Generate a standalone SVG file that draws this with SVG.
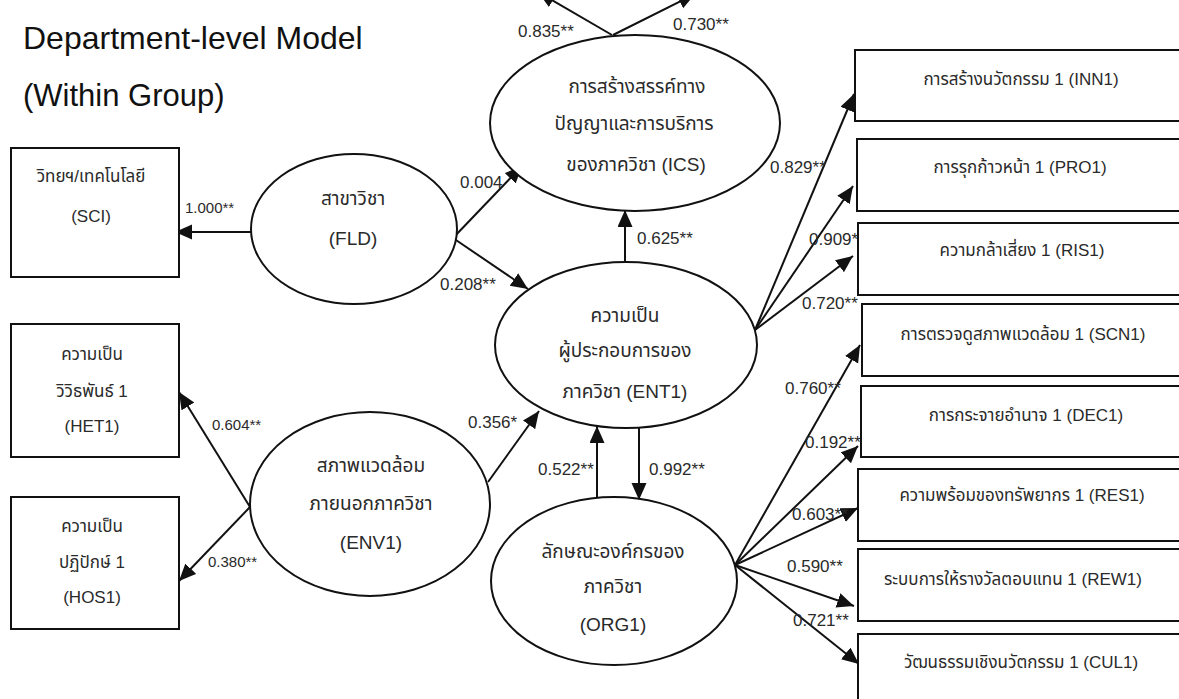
<svg xmlns="http://www.w3.org/2000/svg" width="1179" height="699" viewBox="0 0 1179 699">
  <style>
    .bg { fill: #ffffff; }
    .title { fill: #111111; font-family: "Liberation Sans", Arial, sans-serif; font-size: 31px; }
    .box { fill: #ffffff; stroke: #111111; stroke-width: 2; }
    .lat { fill: #ffffff; stroke: #111111; stroke-width: 2; }
    .t { fill: #2a2a2a; font-family: "Liberation Sans", "Noto Sans Thai", "DejaVu Sans", sans-serif; text-anchor: middle; }
    .ts { font-size: 17px; }
    .tm { font-size: 17px; }
    .tl { font-size: 19px; }
    .lbl { fill: #2a2a2a; font-family: "Liberation Sans", Arial, sans-serif; font-size: 17px; }
    .lbls { font-size: 15px; }
    .edge { stroke: #111111; stroke-width: 2; fill: none; marker-end: url(#arrow); }
  </style>
  <defs>
    <marker id="arrow" markerUnits="userSpaceOnUse" markerWidth="18" markerHeight="16" refX="17" refY="7.5" orient="auto">
      <path d="M0,0 L17,7.5 L0,15 Z" fill="#111111"/>
    </marker>
  </defs>

  <rect class="bg" x="0" y="0" width="1179" height="699"/>

  <!-- heading -->
  <g id="heading">
    <text class="title" x="23" y="49" style="font-size:32px">Department-level Model</text>
    <text class="title" x="23" y="106">(Within Group)</text>
  </g>

  <!-- paths between constructs and indicators -->
  <g id="connectors">
    <line class="edge" x1="251" y1="232" x2="175" y2="232"/>
    <line class="edge" x1="453" y1="238" x2="522" y2="166"/>
    <line class="edge" x1="453" y1="238" x2="528" y2="289"/>
    <line class="edge" x1="612" y1="35" x2="538" y2="-8"/>
    <line class="edge" x1="613" y1="35" x2="695" y2="-6"/>
    <line class="edge" x1="625" y1="262" x2="625" y2="210"/>
    <line class="edge" x1="250" y1="507" x2="179" y2="392"/>
    <line class="edge" x1="250" y1="507" x2="179" y2="581"/>
    <line class="edge" x1="488" y1="482" x2="539" y2="411"/>
    <line class="edge" x1="597" y1="498" x2="597" y2="426"/>
    <line class="edge" x1="639" y1="428" x2="639" y2="500"/>
    <line class="edge" x1="755" y1="330" x2="854" y2="94"/>
    <line class="edge" x1="755" y1="330" x2="853" y2="186"/>
    <line class="edge" x1="755" y1="330" x2="853" y2="256"/>
    <line class="edge" x1="735" y1="565" x2="860" y2="345"/>
    <line class="edge" x1="735" y1="565" x2="858" y2="446"/>
    <line class="edge" x1="735" y1="565" x2="858" y2="508"/>
    <line class="edge" x1="735" y1="565" x2="854" y2="606"/>
    <line class="edge" x1="735" y1="565" x2="859" y2="664"/>

    <text class="lbl lbls" x="185" y="213">1.000**</text>
    <text class="lbl" x="460" y="188">0.004</text>
    <text class="lbl" x="440" y="290">0.208**</text>
    <text class="lbl" x="518" y="37">0.835**</text>
    <text class="lbl" x="673" y="30">0.730**</text>
    <text class="lbl" x="637" y="244">0.625**</text>
    <text class="lbl lbls" x="212" y="430">0.604**</text>
    <text class="lbl lbls" x="208" y="567">0.380**</text>
    <text class="lbl" x="468" y="428">0.356*</text>
    <text class="lbl" x="538" y="475">0.522**</text>
    <text class="lbl" x="649" y="475">0.992**</text>
    <text class="lbl" x="770" y="173">0.829**</text>
    <text class="lbl" x="809" y="245">0.909*</text>
    <text class="lbl" x="802" y="309">0.720**</text>
    <text class="lbl" x="785" y="394">0.760**</text>
    <text class="lbl" x="805" y="448">0.192**</text>
    <text class="lbl" x="792" y="520">0.603**</text>
    <text class="lbl" x="787" y="572">0.590**</text>
    <text class="lbl" x="793" y="626">0.721**</text>
  </g>

  <!-- latent constructs -->
  <g id="ICS">
    <ellipse class="lat" cx="635" cy="123" rx="145" ry="88"/>
    <text class="t tl" x="637" y="93">การสร้างสรรค์ทาง</text>
    <text class="t tl" x="634" y="130">ปัญญาและการบริการ</text>
    <text class="t tl" x="636" y="171">ของภาควิชา  (ICS)</text>
  </g>
  <g id="FLD">
    <ellipse class="lat" cx="354" cy="229" rx="103" ry="75"/>
    <text class="t tl" x="353" y="205">สาขาวิชา</text>
    <text class="t tl" x="353" y="245">(FLD)</text>
  </g>
  <g id="ENT1">
    <ellipse class="lat" cx="626" cy="345" rx="131" ry="83"/>
    <text class="t tl" x="625" y="322">ความเป็น</text>
    <text class="t tl" x="625" y="357">ผู้ประกอบการของ</text>
    <text class="t tl" x="625" y="398">ภาควิชา  (ENT1)</text>
  </g>
  <g id="ENV1">
    <ellipse class="lat" cx="370" cy="504" rx="120" ry="92"/>
    <text class="t tl" x="371" y="472">สภาพแวดล้อม</text>
    <text class="t tl" x="371" y="510">ภายนอกภาควิชา</text>
    <text class="t tl" x="371" y="549">(ENV1)</text>
  </g>
  <g id="ORG1">
    <ellipse class="lat" cx="614" cy="581" rx="123" ry="84"/>
    <text class="t tl" x="613" y="558">ลักษณะองค์กรของ</text>
    <text class="t tl" x="613" y="593">ภาควิชา</text>
    <text class="t tl" x="613" y="631">(ORG1)</text>
  </g>

  <!-- observed indicators, left -->
  <g id="SCI">
    <rect class="box" x="11" y="148" width="168" height="129"/>
    <text class="t tm" x="91" y="182">วิทยฯ/เทคโนโลยี</text>
    <text class="t tm" x="91" y="222">(SCI)</text>
  </g>
  <g id="HET1">
    <rect class="box" x="11" y="324" width="168" height="133"/>
    <text class="t tm" x="92" y="360">ความเป็น</text>
    <text class="t tm" x="92" y="397">วิวิธพันธ์ 1</text>
    <text class="t tm" x="92" y="432">(HET1)</text>
  </g>
  <g id="HOS1">
    <rect class="box" x="11" y="497" width="168" height="132"/>
    <text class="t tm" x="92" y="532">ความเป็น</text>
    <text class="t tm" x="92" y="568">ปฏิปักษ์  1</text>
    <text class="t tm" x="92" y="603">(HOS1)</text>
  </g>

  <!-- observed indicators, right -->
  <g id="INN1">
    <rect class="box" x="855" y="50" width="340" height="71"/>
    <text class="t ts" x="1021" y="85">การสร้างนวัตกรรม 1  (INN1)</text>
  </g>
  <g id="PRO1">
    <rect class="box" x="857" y="139" width="340" height="72"/>
    <text class="t ts" x="1020" y="173">การรุกก้าวหน้า 1 (PRO1)</text>
  </g>
  <g id="RIS1">
    <rect class="box" x="858" y="223" width="340" height="72"/>
    <text class="t ts" x="1022" y="256">ความกล้าเสี่ยง 1  (RIS1)</text>
  </g>
  <g id="SCN1">
    <rect class="box" x="862" y="304" width="340" height="72"/>
    <text class="t ts" x="1023" y="340">การตรวจดูสภาพแวดล้อม 1 (SCN1)</text>
  </g>
  <g id="DEC1">
    <rect class="box" x="861" y="386" width="340" height="71"/>
    <text class="t ts" x="1026" y="421">การกระจายอำนาจ 1  (DEC1)</text>
  </g>
  <g id="RES1">
    <rect class="box" x="858" y="469" width="340" height="72"/>
    <text class="t ts" x="1022" y="501">ความพร้อมของทรัพยากร 1  (RES1)</text>
  </g>
  <g id="REW1">
    <rect class="box" x="858" y="549" width="340" height="72"/>
    <text class="t ts" x="1013" y="585">ระบบการให้รางวัลตอบแทน 1 (REW1)</text>
  </g>
  <g id="CUL1">
    <rect class="box" x="858" y="634" width="340" height="90"/>
    <text class="t ts" x="1021" y="668">วัฒนธรรมเชิงนวัตกรรม 1 (CUL1)</text>
  </g>
</svg>
